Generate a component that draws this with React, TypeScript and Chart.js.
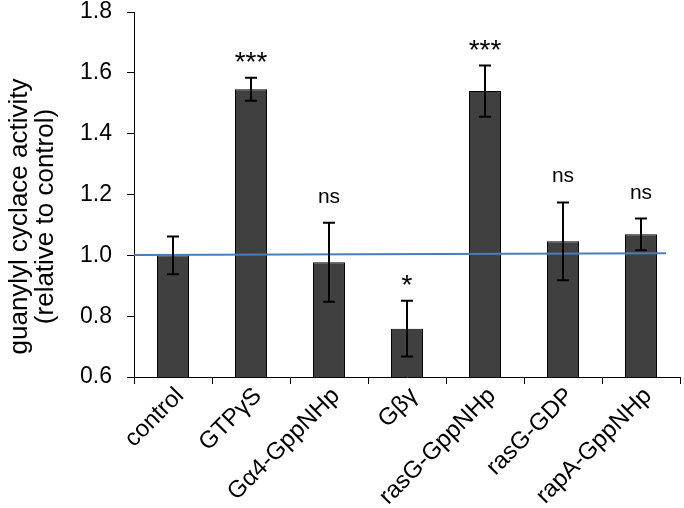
import React, { useEffect, useRef } from 'react';
import { Chart, registerables } from 'chart.js';

Chart.register(...registerables);

const categories = ['control', 'GTPγS', 'Gα4-GppNHp', 'Gβγ', 'rasG-GppNHp', 'rasG-GDP', 'rapA-GppNHp'];
const means = [1.0, 1.546, 0.977, 0.759, 1.54, 1.046, 1.069];
const errors = [0.062, 0.038, 0.13, 0.092, 0.084, 0.128, 0.052];
const significance = ['', '***', 'ns', '*', '***', 'ns', 'ns'];
const yTickValues = [0.6, 0.8, 1.0, 1.2, 1.4, 1.6, 1.8];
const referenceLine = [1.001, 1.0065];
const yTitle = ['guanylyl cyclace activity', '(relative to control)'];

const FONT = "'Liberation Sans', Arial, sans-serif";

const overlayPlugin = {
  id: 'overlay',
  afterDatasetsDraw(chart: any) {
    const { ctx, chartArea, scales } = chart;
    const x = scales.x;
    const y = scales.y;
    ctx.save();
    // reference line
    ctx.strokeStyle = '#4a7ebb';
    ctx.lineWidth = 2;
    ctx.beginPath();
    ctx.moveTo(chartArea.left, y.getPixelForValue(referenceLine[0]));
    ctx.lineTo(chartArea.right - 14, y.getPixelForValue(referenceLine[1]));
    ctx.stroke();
    // error bars
    ctx.strokeStyle = '#000';
    ctx.lineWidth = 2;
    const cap = 6;
    means.forEach((m, i) => {
      const cx = Math.round(x.getPixelForValue(i));
      const top = y.getPixelForValue(m + errors[i]);
      const bot = y.getPixelForValue(m - errors[i]);
      ctx.beginPath();
      ctx.moveTo(cx, top);
      ctx.lineTo(cx, bot);
      ctx.moveTo(cx - cap, top);
      ctx.lineTo(cx + cap, top);
      ctx.moveTo(cx - cap, bot);
      ctx.lineTo(cx + cap, bot);
      ctx.stroke();
    });
    // significance labels
    ctx.fillStyle = '#000';
    ctx.textAlign = 'center';
    ctx.textBaseline = 'alphabetic';
    significance.forEach((s, i) => {
      if (!s) return;
      const cx = x.getPixelForValue(i);
      const top = y.getPixelForValue(means[i] + errors[i]);
      const isStar = s.startsWith('*');
      ctx.font = isStar ? `28px ${FONT}` : `21px ${FONT}`;
      ctx.fillText(s, cx, top - (isStar ? 7 : 20));
    });
    ctx.restore();
  },
  afterDraw(chart: any) {
    const { ctx, chartArea } = chart;
    ctx.save();
    ctx.fillStyle = '#000';
    ctx.font = `26px ${FONT}`;
    ctx.textAlign = 'center';
    ctx.textBaseline = 'middle';
    const cy = (chartArea.top + chartArea.bottom) / 2 + 22;
    const xs = [20, 46];
    yTitle.forEach((line, i) => {
      ctx.save();
      ctx.translate(xs[i], cy);
      ctx.rotate(-Math.PI / 2);
      ctx.fillText(line, 0, 0);
      ctx.restore();
    });
    ctx.restore();
  },
};

export default function App() {
  const canvasRef = useRef<HTMLCanvasElement | null>(null);

  useEffect(() => {
    if (!canvasRef.current) return;
    const chart = new Chart(canvasRef.current, {
      type: 'bar',
      data: {
        labels: categories,
        datasets: [
          {
            data: means,
            backgroundColor: '#404040',
            borderColor: '#000000',
            borderWidth: 1,
            categoryPercentage: 1,
            barPercentage: 0.41,
          },
        ],
      },
      options: {
        animation: false,
        responsive: true,
        maintainAspectRatio: false,
        layout: { padding: { top: 12, right: 4, left: 0, bottom: 0 } },
        plugins: {
          legend: { display: false },
          tooltip: { enabled: false },
        },
        scales: {
          x: {
            offset: true,
            grid: {
              offset: true,
              drawOnChartArea: false,
              color: '#000',
              tickLength: 7,
              lineWidth: 1,
            },
            border: { color: '#000', width: 1 },
            ticks: {
              color: '#000',
              font: { family: FONT, size: 24 },
              minRotation: 45,
              maxRotation: 45,
              autoSkip: false,
              padding: -2,
              labelOffset: 7,
            },
            afterFit(scale: any) {
              scale.height = 131;
            },
          },
          y: {
            min: 0.6,
            max: 1.8,
            afterBuildTicks(scale: any) {
              scale.ticks = yTickValues.map((v) => ({ value: v }));
            },
            grid: {
              drawOnChartArea: false,
              color: '#000',
              tickLength: 7,
              lineWidth: 1,
            },
            border: { color: '#000', width: 1 },
            ticks: {
              color: '#000',
              font: { family: FONT, size: 23 },
              padding: 15,
              callback: (v: any) => Number(v).toFixed(1),
            },
            afterFit(scale: any) {
              scale.width = 134;
              scale.paddingTop = 8;
              scale.paddingBottom = 8;
            },
          },
        },
      },
      plugins: [overlayPlugin],
    });
    return () => chart.destroy();
  }, []);

  return (
    <div style={{ position: 'absolute', left: 0, top: 0, width: 684, height: 508, background: '#fff' }}>
      <canvas ref={canvasRef} />
    </div>
  );
}
